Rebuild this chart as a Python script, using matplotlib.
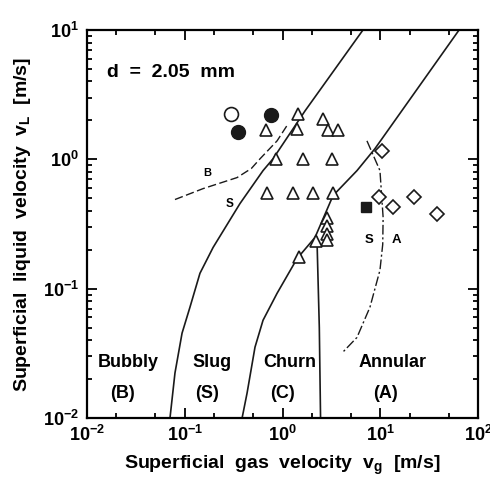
import matplotlib
matplotlib.use("Agg")
import matplotlib.pyplot as plt
from matplotlib.ticker import LogLocator, NullFormatter

plt.rcParams['font.family'] = ['Liberation Sans', 'DejaVu Sans']
plt.rcParams['font.weight'] = 'bold'
plt.rcParams['axes.labelweight'] = 'bold'
plt.rcParams['mathtext.fontset'] = 'custom'
plt.rcParams['mathtext.rm'] = 'Liberation Sans:bold'
plt.rcParams['mathtext.it'] = 'Liberation Sans:bold'
plt.rcParams['mathtext.bf'] = 'Liberation Sans:bold'

# ---- data ----
open_circle_vg = [0.297]
open_circle_vl = [2.25]
filled_circle_vg = [0.351, 0.762]
filled_circle_vl = [1.64, 2.21]

triangle_vg = [1.44, 0.678, 1.41, 2.60, 2.92, 3.70,
               0.86, 1.62, 3.21,
               0.693, 1.28, 2.05, 3.29,
               2.85, 2.85, 2.85, 2.85, 2.20, 1.47]
triangle_vl = [2.25, 1.69, 1.73, 2.06, 1.69, 1.69,
               1.01, 1.01, 1.01,
               0.553, 0.553, 0.553, 0.553,
               0.349, 0.303, 0.267, 0.236, 0.232, 0.175]

diamond_vg = [10.4, 9.7, 13.5, 22.1, 38.1]
diamond_vl = [1.17, 0.515, 0.425, 0.515, 0.375]

square_vg = [7.15]
square_vl = [0.425]

# boundary lines
bs_vg = [0.0706, 0.0794, 0.0938, 0.113, 0.143, 0.195, 0.367, 0.632, 0.80, 1.70, 6.65]
bs_vl = [0.01, 0.0223, 0.0453, 0.0719, 0.1315, 0.2085, 0.455, 0.818, 1.01, 2.37, 10.0]

ca_vg = [0.386, 0.434, 0.523, 0.632, 0.879, 1.41, 2.15, 3.29, 5.78, 8.83, 64.0]
ca_vl = [0.01, 0.0156, 0.0353, 0.057, 0.092, 0.171, 0.249, 0.525, 0.818, 1.21, 10.0]

vert_vg = [2.25, 2.38, 2.45]
vert_vl = [0.249, 0.05, 0.01]

sa_vg = [7.31, 9.93, 10.7, 10.6, 9.93, 7.85, 5.78, 4.06]
sa_vl = [1.39, 0.818, 0.355, 0.22, 0.139, 0.072, 0.042, 0.0318]

b_vg = [0.0794, 0.154, 0.343, 0.48, 0.589, 0.88, 1.14]
b_vl = [0.489, 0.594, 0.723, 0.85, 1.01, 1.39, 1.88]

regions = ['Bubbly', 'Slug', 'Churn', 'Annular']
region_abbr = ['(B)', '(S)', '(C)', '(A)']
region_vg = [0.0263, 0.190, 1.19, 13.5]
abbr_vg = [0.0228, 0.169, 0.99, 11.2]
label_vl = [0.027, 0.0156]

fig = plt.figure(figsize=(4.9, 4.78), dpi=100)
ax = fig.add_axes([0.1776, 0.1255, 0.7979, 0.8117])
ax.set_xscale('log')
ax.set_yscale('log')
ax.set_xlim(1e-2, 1e2)
ax.set_ylim(1e-2, 1e1)

lc = '#1a1a1a'
ax.plot(bs_vg, bs_vl, color=lc, lw=1.2)
ax.plot(ca_vg, ca_vl, color=lc, lw=1.2)
ax.plot(vert_vg, vert_vl, color=lc, lw=1.2)
ax.plot(sa_vg, sa_vl, color=lc, lw=1.0, dashes=(7, 2, 1.5, 2))
ax.plot(b_vg, b_vl, color=lc, lw=1.0, dashes=(6, 2.5))

ax.plot(triangle_vg, triangle_vl, ls='none', marker='^', ms=8.5,
        mfc='white', mec=lc, mew=1.2)
ax.plot(diamond_vg, diamond_vl, ls='none', marker='D', ms=7,
        mfc='white', mec=lc, mew=1.2)
ax.plot(open_circle_vg, open_circle_vl, ls='none', marker='o', ms=10,
        mfc='white', mec=lc, mew=1.2)
ax.plot(filled_circle_vg, filled_circle_vl, ls='none', marker='o', ms=10,
        mfc=lc, mec=lc)
ax.plot(square_vg, square_vl, ls='none', marker='s', ms=7.5,
        mfc=lc, mec=lc)

for name, xv in zip(regions, region_vg):
    ax.text(xv, label_vl[0], name, fontsize=13, ha='center', va='center')
for abbr, xv in zip(region_abbr, abbr_vg):
    ax.text(xv, label_vl[1], abbr, fontsize=13, ha='center', va='center')

ax.text(0.016, 4.66, 'd  =  2.05  mm', fontsize=14, ha='left', va='center')

ax.text(0.169, 0.789, 'B', fontsize=8, ha='center', va='center')
ax.text(0.284, 0.455, 'S', fontsize=8.5, ha='center', va='center')
ax.text(7.67, 0.240, 'S', fontsize=9.5, ha='center', va='center')
ax.text(14.8, 0.240, 'A', fontsize=9.5, ha='center', va='center')

ax.set_xlabel(r'Superficial  gas  velocity  v$_{\mathregular{g}}$  [m/s]',
              fontsize=14, labelpad=6)
ax.set_ylabel(r'Superficial  liquid  velocity  v$_{\mathregular{L}}$  [m/s]',
              fontsize=14, labelpad=7)

ax.xaxis.set_major_locator(LogLocator(base=10, numticks=10))
ax.xaxis.set_minor_locator(LogLocator(base=10, subs=(2, 5), numticks=10))
ax.yaxis.set_major_locator(LogLocator(base=10, numticks=10))
ax.yaxis.set_minor_locator(LogLocator(base=10, subs=range(2, 10), numticks=10))
ax.xaxis.set_minor_formatter(NullFormatter())
ax.yaxis.set_minor_formatter(NullFormatter())

ax.tick_params(which='both', direction='in', top=True, right=True, width=1.3)
ax.tick_params(which='major', length=7, labelsize=13)
ax.tick_params(axis='x', which='major', pad=5)
ax.tick_params(axis='y', which='major', pad=6)
ax.tick_params(which='minor', length=3.5)
for s in ax.spines.values():
    s.set_linewidth(1.6)

fig.savefig('out.png', dpi=100)
